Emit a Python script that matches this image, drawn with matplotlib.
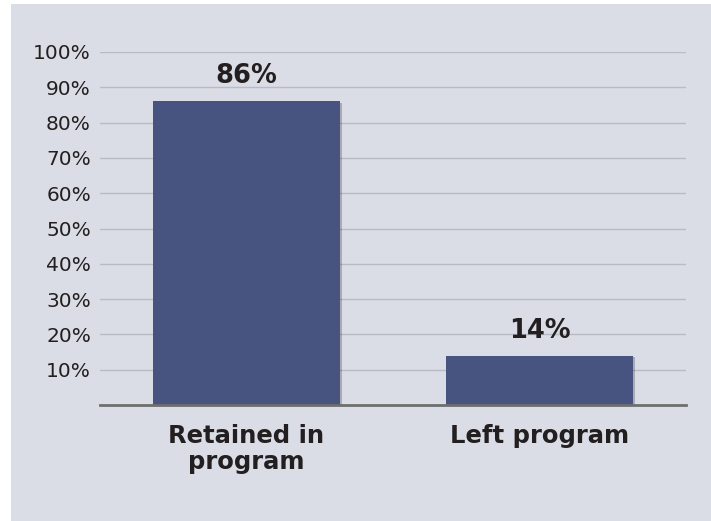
import matplotlib
matplotlib.use("Agg")
import matplotlib.pyplot as plt
import matplotlib.patches as patches
import matplotlib.patheffects as pe

categories = ["Retained in\nprogram", "Left program"]
shares = [86, 14]
y_ticks = [10, 20, 30, 40, 50, 60, 70, 80, 90, 100]

BG = "#dbdde6"
BAR = "#46547f"
TEXT = "#231f20"

fig = plt.figure(figsize=(7.11, 5.21), dpi=100, facecolor="white")
# shaded panel, leaving a thin white strip on the left and top
fig.patches.append(patches.Rectangle((11 / 711, 0), 1, 1 - 4 / 521,
                                     transform=fig.transFigure,
                                     facecolor=BG, edgecolor="none", zorder=-1))
ax = fig.add_axes([0.1406, 0.2226, 0.8242, 0.6776], facecolor=BG)

x = range(len(categories))
bars = ax.bar(x, shares, width=0.64, color=BAR, zorder=3)
for b in bars:
    b.set_path_effects([pe.SimplePatchShadow(offset=(1, -1), alpha=0.25), pe.Normal()])

for b, v in zip(bars, shares):
    ax.annotate(f"{v}%", (b.get_x() + b.get_width() / 2, v),
                xytext=(0, 13), textcoords="offset points",
                ha="center", va="baseline", fontsize=18.5, fontweight="bold", color=TEXT)

ax.set_xlim(-0.5, 1.5)
ax.set_ylim(0, 100)
ax.set_yticks(y_ticks)
ax.set_yticklabels([f"{t}%" for t in y_ticks], fontsize=14.5, color=TEXT)
ax.set_xticks(list(x))
ax.set_xticklabels(categories, fontsize=17.5, fontweight="bold", color=TEXT,
                   linespacing=1.12)
ax.tick_params(axis="y", length=0, pad=6.5)
ax.tick_params(axis="x", length=0, pad=13.5)

ax.grid(axis="y", color="#b9bbc4", linewidth=1, zorder=0)
for side in ("top", "right", "left"):
    ax.spines[side].set_visible(False)
ax.spines["bottom"].set_color("#6e6e70")
ax.spines["bottom"].set_linewidth(2)
ax.spines["bottom"].set_zorder(4)

fig.savefig("out.png", dpi=100, facecolor="white")
